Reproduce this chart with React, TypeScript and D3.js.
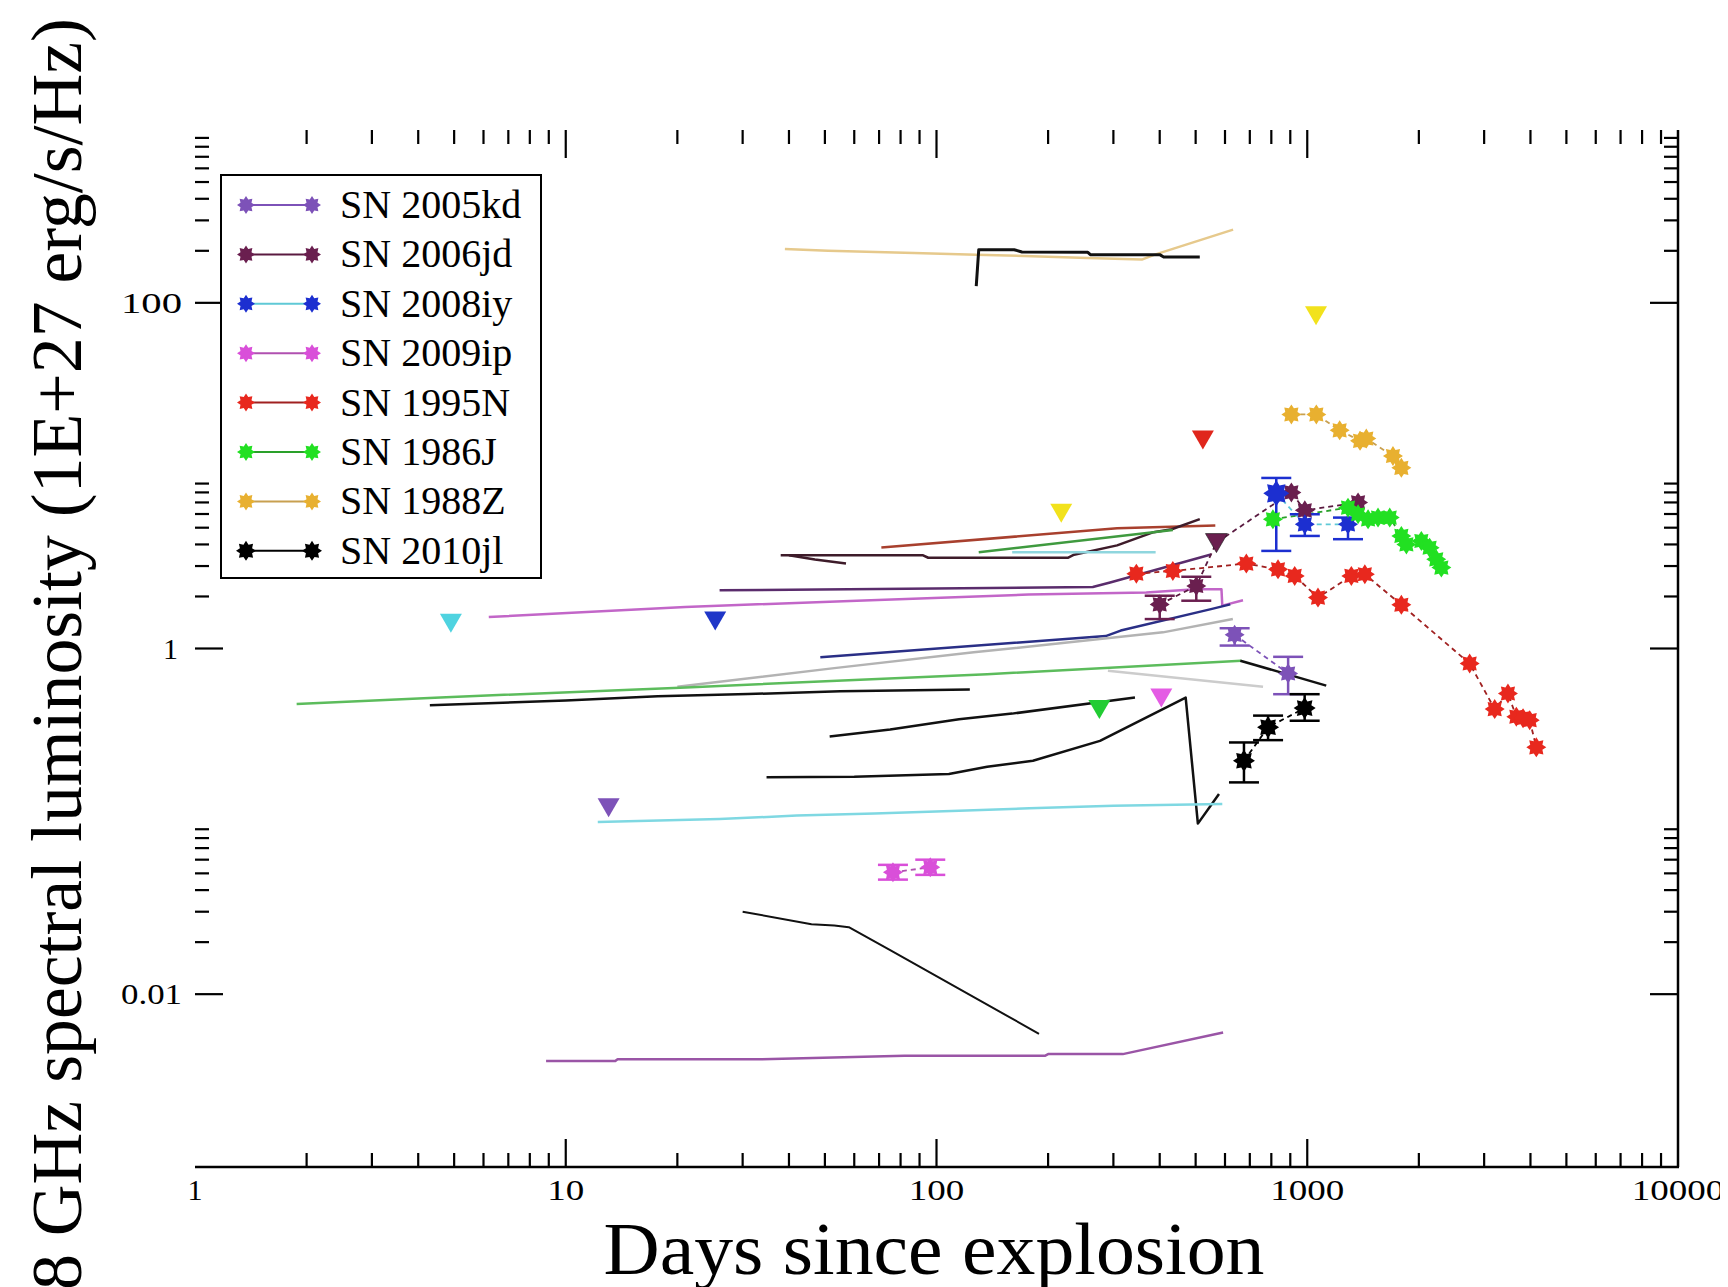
import React from "react";
import * as d3 from "d3";

const W = 1728;
const H = 1287;

// ---- axes ----
const xDomain: [number, number] = [1, 10000];
const yDomain: [number, number] = [1e-3, 1e3];
const xDecades = [1, 10, 100, 1000];
const xMajorTicks = [10, 100, 1000];
const xTickLabels = [1, 10, 100, 1000, 10000];
const yMajorTicks = [0.01, 1, 100];
const yTickLabels = ["0.01", "1", "100"];
const minorMultipliers = [2, 3, 4, 5, 6, 7, 8, 9];

// ---- radio detections (day, luminosity, error range) ----
const sn2005kd = [
  { day: 637, lum: 1.2, lo: 1.04, hi: 1.31 },
  { day: 888, lum: 0.717, lo: 0.544, hi: 0.895 },
];
const sn2006jd = [
  { day: 400, lum: 1.8, lo: 1.48, hi: 2.02 },
  { day: 502, lum: 2.3, lo: 1.89, hi: 2.6 },
  { day: 569, lum: 4.1, limit: true },
  { day: 906, lum: 8.0 },
  { day: 985, lum: 6.3 },
  { day: 1371, lum: 7.0 },
];
const sn2008iy = [
  { day: 825, lum: 7.9, lo: 3.67, hi: 9.7, big: true },
  { day: 985, lum: 5.23, lo: 4.48, hi: 5.98 },
  { day: 1288, lum: 5.23, lo: 4.29, hi: 5.72 },
];
const sn2009ip = [
  { day: 76.3, lum: 0.0507, lo: 0.046, hi: 0.056 },
  { day: 96.2, lum: 0.0542, lo: 0.049, hi: 0.06 },
];
const sn1995N = [
  { day: 346, lum: 2.71 },
  { day: 434, lum: 2.81 },
  { day: 685, lum: 3.1 },
  { day: 834, lum: 2.87 },
  { day: 925, lum: 2.63 },
  { day: 1069, lum: 1.97 },
  { day: 1315, lum: 2.63 },
  { day: 1430, lum: 2.69 },
  { day: 1794, lum: 1.79 },
  { day: 2742, lum: 0.819 },
  { day: 3203, lum: 0.446 },
  { day: 3478, lum: 0.549 },
  { day: 3664, lum: 0.403 },
  { day: 3820, lum: 0.395 },
  { day: 3981, lum: 0.385 },
  { day: 4148, lum: 0.268 },
];
const sn1986J = [
  { day: 808, lum: 5.59 },
  { day: 1288, lum: 6.53 },
  { day: 1371, lum: 5.98 },
  { day: 1459, lum: 5.59 },
  { day: 1552, lum: 5.72 },
  { day: 1669, lum: 5.72 },
  { day: 1794, lum: 4.48 },
  { day: 1851, lum: 4.0 },
  { day: 2031, lum: 4.19 },
  { day: 2138, lum: 3.83 },
  { day: 2228, lum: 3.28 },
  { day: 2300, lum: 2.94 },
];
const sn1988Z = [
  { day: 906, lum: 22.6 },
  { day: 1058, lum: 22.6 },
  { day: 1223, lum: 18.3 },
  { day: 1388, lum: 15.9 },
  { day: 1443, lum: 16.4 },
  { day: 1703, lum: 13.0 },
  { day: 1794, lum: 11.1 },
];
const sn2010jl = [
  { day: 675, lum: 0.224, lo: 0.168, hi: 0.286 },
  { day: 784, lum: 0.35, lo: 0.295, hi: 0.409 },
  { day: 984, lum: 0.452, lo: 0.382, hi: 0.544 },
];

// ---- upper limits (day, luminosity) ----
const limitDays = [4.9, 25.3, 13.05, 217, 1056, 523, 275, 404];
const limitLums = [1.41, 1.45, 0.1205, 6.11, 84.7, 16.2, 0.446, 0.521];
const limitColors = ["#4fd3e0", "#1f36c8", "#7d52b8", "#f2e21c", "#f2e21c", "#e0261c", "#22cc33", "#e45ce4"];

// ---- model light curves [day, luminosity] ----
const curveTan: [number, number][] = [[39, 205], [51, 200], [87, 194], [128, 190], [256, 182], [358, 178], [388, 190], [631, 265]];
const curveTopBlack: [number, number][] = [[128, 125], [130, 203], [162, 203], [170, 197], [256, 196], [260, 190], [400, 190], [410, 184], [513, 184]];
const curveBrown: [number, number][] = [[71, 3.84], [307, 4.96], [565, 5.15]];
const curveMaroon: [number, number][] = [[38, 3.46], [92, 3.46], [95, 3.35], [226, 3.35], [235, 3.49], [307, 3.95], [385, 4.71], [431, 4.9], [513, 5.6]];
const curveMaroonShort: [number, number][] = [[40, 3.46], [47, 3.27], [57, 3.1]];
const curveGreenUpper: [number, number][] = [[130, 3.6], [434, 4.85]];
const curveCyanUpper: [number, number][] = [[160, 3.6], [390, 3.6]];
const curveDarkPurple: [number, number][] = [[26, 2.17], [83, 2.22], [264, 2.27], [294, 2.41], [550, 3.5]];
const curveMagenta: [number, number][] = [[6.2, 1.52], [21, 1.74], [61, 1.89], [177, 2.05], [368, 2.11], [500, 2.2], [587, 2.2], [590, 1.77], [671, 1.9]];
const curveNavy: [number, number][] = [[48.6, 0.89], [286, 1.18], [314, 1.27], [550, 1.69], [620, 1.8]];
const curveGrey: [number, number][] = [[20, 0.6], [53, 0.77], [126, 0.95], [222, 1.08], [408, 1.24], [630, 1.48]];
const curveGreenLong: [number, number][] = [[1.88, 0.477], [4.59, 0.521], [21.1, 0.595], [137, 0.71], [664, 0.85]];
const curveGreyFalling: [number, number][] = [[290, 0.743], [760, 0.6]];
const curveBlackLong: [number, number][] = [[4.3, 0.47], [10, 0.5], [17.7, 0.53], [31, 0.545], [55, 0.565], [123, 0.58]];
const curveBlackFalling: [number, number][] = [[660, 0.85], [1125, 0.61]];
const curveBlackMid: [number, number][] = [[51.5, 0.31], [75, 0.34], [115, 0.39], [160, 0.42], [343, 0.52]];
const curveBlackDrop: [number, number][] = [[34.8, 0.18], [60, 0.181], [108, 0.188], [137, 0.207], [182, 0.224], [276, 0.292], [470, 0.52], [507, 0.097], [578, 0.144]];
const curveCyanLow: [number, number][] = [[12.2, 0.099], [26, 0.103], [42, 0.108], [68, 0.111], [115, 0.115], [178, 0.119], [300, 0.123], [590, 0.126]];
const curveBlackLow: [number, number][] = [[30, 0.03], [46, 0.0254], [53, 0.025], [58, 0.0244], [75, 0.018], [189, 0.0059]];
const curvePurpleLow: [number, number][] = [[8.85, 0.0041], [13.6, 0.0041], [13.8, 0.0042], [33, 0.0042], [82, 0.0044], [196, 0.0044], [200, 0.0045], [318, 0.0045], [593, 0.006]];

const modelCurves = [
  { pts: curveTan, color: "#e6c98c", w: 2.5 },
  { pts: curveTopBlack, color: "#111111", w: 3 },
  { pts: curveBrown, color: "#a8402e", w: 2.5 },
  { pts: curveMaroon, color: "#3e1c2a", w: 2.5 },
  { pts: curveMaroonShort, color: "#3e1c2a", w: 2.5 },
  { pts: curveGreenUpper, color: "#3f9a3f", w: 2.5 },
  { pts: curveCyanUpper, color: "#8fd6de", w: 2.5 },
  { pts: curveDarkPurple, color: "#5a2c6c", w: 2.5 },
  { pts: curveMagenta, color: "#c266c8", w: 2.5 },
  { pts: curveNavy, color: "#2a2f86", w: 2.5 },
  { pts: curveGrey, color: "#b3b3b3", w: 2.5 },
  { pts: curveGreenLong, color: "#5cbc5c", w: 2.5 },
  { pts: curveGreyFalling, color: "#cccccc", w: 2.5 },
  { pts: curveBlackLong, color: "#111111", w: 2.5 },
  { pts: curveBlackFalling, color: "#111111", w: 2.5 },
  { pts: curveBlackMid, color: "#111111", w: 2.5 },
  { pts: curveBlackDrop, color: "#111111", w: 2.5 },
  { pts: curveCyanLow, color: "#7fd8e2", w: 2.5 },
  { pts: curveBlackLow, color: "#111111", w: 2 },
  { pts: curvePurpleLow, color: "#9a55a6", w: 2.5 },
];

const legendNames = ["SN 2005kd", "SN 2006jd", "SN 2008iy", "SN 2009ip", "SN 1995N", "SN 1986J", "SN 1988Z", "SN 2010jl"];
const markerColors = ["#7d52b8", "#6a1f4f", "#1c2fd0", "#d94fd9", "#e8281e", "#22e022", "#e8b030", "#000000"];
const lineColors = ["#7d52b8", "#5a1a40", "#5fc9d6", "#b050b0", "#a02020", "#2aa02a", "#c8a050", "#000000"];
const seriesData = [sn2005kd, sn2006jd, sn2008iy, sn2009ip, sn1995N, sn1986J, sn1988Z, sn2010jl];

const x = d3.scaleLog().domain(xDomain).range([187, 1670]);
const y = d3.scaleLog().domain(yDomain).range([1159, 122]);
const line = d3
  .line<[number, number]>()
  .x((d) => x(d[0]))
  .y((d) => y(d[1]));

function starPath(cx: number, cy: number, r: number) {
  const pts: string[] = [];
  for (let i = 0; i < 16; i++) {
    const a = (Math.PI * i) / 8 - Math.PI / 2;
    const rr = i % 2 === 0 ? r : r * 0.66;
    pts.push(`${(cx + rr * Math.cos(a)).toFixed(2)},${(cy + rr * Math.sin(a)).toFixed(2)}`);
  }
  return `M${pts.join("L")}Z`;
}

function triPath(cx: number, cy: number) {
  return `M${cx - 11},${cy - 9}L${cx + 11},${cy - 9}L${cx},${cy + 10}Z`;
}

const FONT = "'Liberation Serif', 'Times New Roman', serif";

export default function App() {
  const xMinor = xDecades.flatMap((d) => minorMultipliers.map((m) => d * m));
  const yMinor = yMajorTicks.flatMap((d) => minorMultipliers.map((m) => d * m));
  const x0 = 187, x1 = 1670, yTop = 122, yBot = 1159;

  return (
    <svg width={W} height={H} viewBox={`0 0 ${W} ${H}`} style={{ display: "block", background: "#fff" }}>
      <rect x={0} y={0} width={W} height={H} fill="#fff" />

      {/* model curves */}
      <g fill="none" strokeLinejoin="round">
        {modelCurves.map((c, i) => (
          <path key={i} d={line(c.pts) || ""} stroke={c.color} strokeWidth={c.w} />
        ))}
      </g>

      {/* connecting lines of the measured light curves */}
      <g fill="none">
        {seriesData.map((s, i) => (
          <path
            key={i}
            d={line(s.map((p) => [p.day, p.lum] as [number, number])) || ""}
            stroke={lineColors[i]}
            strokeWidth={1.8}
            strokeDasharray="5,4"
          />
        ))}
      </g>

      {/* error bars */}
      <g>
        {seriesData.map((s, i) =>
          s
            .filter((p: any) => p.lo !== undefined)
            .map((p: any, j) => {
              const px = x(p.day);
              return (
                <g key={`${i}-${j}`} stroke={i === 2 ? "#1c2fd0" : markerColors[i]} strokeWidth={2.5}>
                  <line x1={px} x2={px} y1={y(p.lo)} y2={y(p.hi)} />
                  <line x1={px - 15} x2={px + 15} y1={y(p.lo)} y2={y(p.lo)} />
                  <line x1={px - 15} x2={px + 15} y1={y(p.hi)} y2={y(p.hi)} />
                </g>
              );
            })
        )}
      </g>

      {/* markers */}
      <g>
        {seriesData.map((s, i) =>
          s.map((p: any, j) =>
            p.limit ? (
              <path key={`${i}-${j}`} d={triPath(x(p.day), y(p.lum))} fill={markerColors[i]} stroke="#111" strokeWidth={0.6} />
            ) : (
              <path
                key={`${i}-${j}`}
                d={starPath(x(p.day), y(p.lum), p.big ? 13 : i === 7 ? 11 : 10)}
                fill={markerColors[i]}
              />
            )
          )
        )}
      </g>

      {/* upper limits */}
      <g>
        {limitDays.map((d, i) => (
          <path key={i} d={triPath(x(d), y(limitLums[i]))} fill={limitColors[i]} />
        ))}
      </g>

      {/* frame: bottom and right axis lines */}
      <g stroke="#000" strokeWidth={2.5} fill="none">
        <line x1={x0} x2={x1 + 1} y1={yBot} y2={yBot} />
        <line x1={x1} x2={x1} y1={yTop} y2={yBot} />
      </g>

      {/* ticks */}
      <g stroke="#000" strokeWidth={2.2}>
        {xMajorTicks.map((t) => (
          <g key={`xM${t}`}>
            <line x1={x(t)} x2={x(t)} y1={yBot} y2={yBot - 28} />
            <line x1={x(t)} x2={x(t)} y1={yTop} y2={yTop + 28} />
          </g>
        ))}
        {xMinor.map((t) => (
          <g key={`xm${t}`}>
            <line x1={x(t)} x2={x(t)} y1={yBot} y2={yBot - 14} />
            <line x1={x(t)} x2={x(t)} y1={yTop} y2={yTop + 14} />
          </g>
        ))}
        {yMajorTicks.map((t) => (
          <g key={`yM${t}`}>
            <line x1={x0} x2={x0 + 28} y1={y(t)} y2={y(t)} />
            <line x1={x1} x2={x1 - 28} y1={y(t)} y2={y(t)} />
          </g>
        ))}
        {yMinor.map((t) => (
          <g key={`ym${t}`}>
            <line x1={x0} x2={x0 + 14} y1={y(t)} y2={y(t)} />
            <line x1={x1} x2={x1 - 14} y1={y(t)} y2={y(t)} />
          </g>
        ))}
      </g>

      {/* tick labels */}
      <g fontFamily={FONT} fontSize={30} fill="#000">
        {xTickLabels.map((t) => {
          const s = String(t);
          return (
            <text
              key={`xl${t}`}
              x={x(t)}
              y={1192}
              textAnchor="middle"
              {...(s.length > 1 ? { textLength: s.length * 18.5, lengthAdjust: "spacingAndGlyphs" } : {})}
            >
              {s}
            </text>
          );
        })}
        {yTickLabels.map((s, i) => (
          <text
            key={`yl${s}`}
            x={s.length === 1 ? 170 : 174}
            y={y(yMajorTicks[i]) + 10}
            textAnchor="end"
            {...(s.length > 1 ? { textLength: 61, lengthAdjust: "spacingAndGlyphs" } : {})}
          >
            {s}
          </text>
        ))}
      </g>

      {/* axis titles */}
      <text
        x={926}
        y={1266}
        textAnchor="middle"
        fontFamily={FONT}
        fontSize={74}
        textLength={661}
        lengthAdjust="spacingAndGlyphs"
      >
        Days since explosion
      </text>
      <text
        transform="translate(73,1282) rotate(-90)"
        x={0}
        y={0}
        textAnchor="start"
        fontFamily={FONT}
        fontSize={72}
        textLength={1272}
        lengthAdjust="spacingAndGlyphs"
      >
        8 GHz spectral luminosity (1E+27 erg/s/Hz)
      </text>

      {/* legend */}
      <g>
        <rect x={213} y={167} width={320} height={403} fill="#fff" stroke="#000" strokeWidth={2} />
        {legendNames.map((n, i) => {
          const cy = 197 + i * 49.4;
          return (
            <g key={n}>
              <line x1={238} x2={304} y1={cy} y2={cy} stroke={lineColors[i]} strokeWidth={2} />
              <path d={starPath(238, cy, i === 7 ? 10 : 9)} fill={markerColors[i]} />
              <path d={starPath(304, cy, i === 7 ? 10 : 9)} fill={markerColors[i]} />
              <text x={332} y={cy + 13} fontFamily={FONT} fontSize={40} fill="#000">
                {n}
              </text>
            </g>
          );
        })}
      </g>
    </svg>
  );
}
